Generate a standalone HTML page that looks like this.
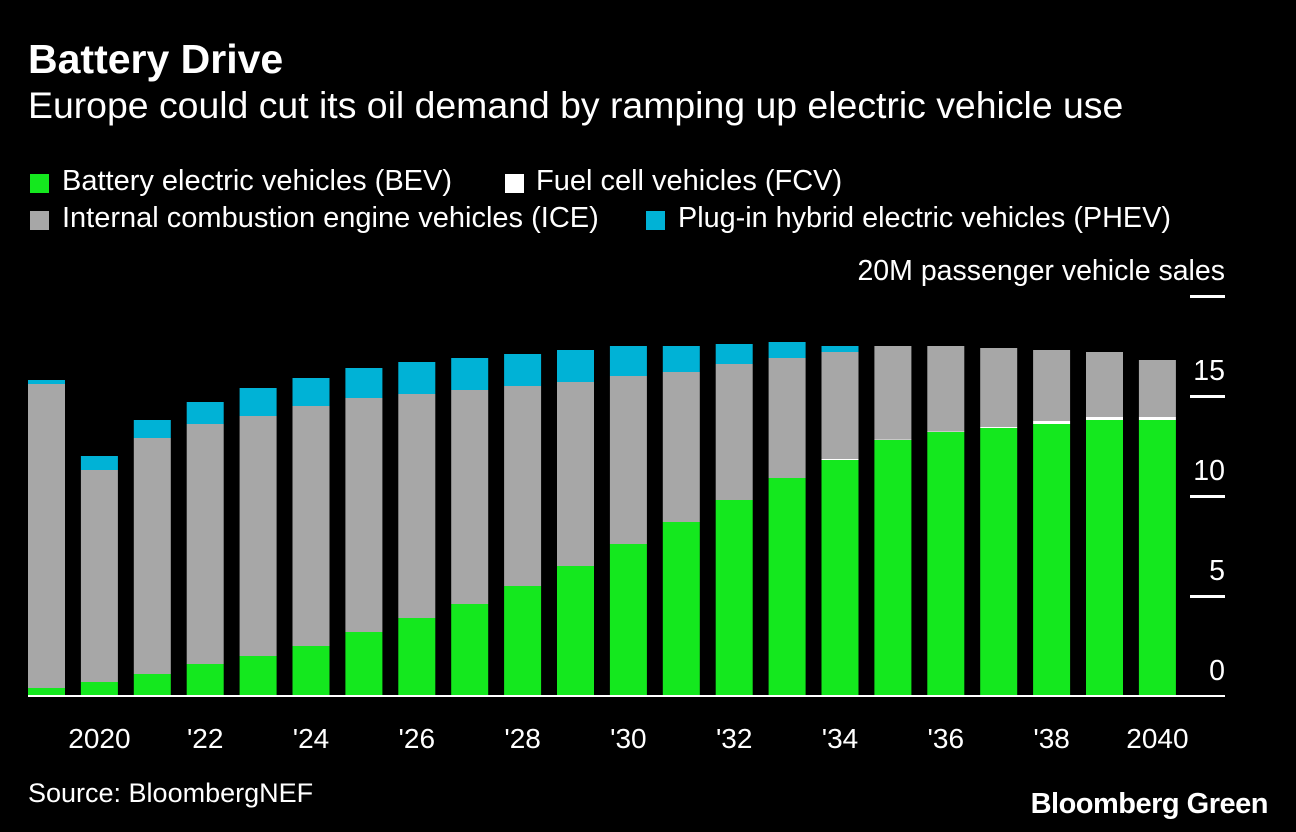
<!DOCTYPE html>
<html><head><meta charset="utf-8"><style>
body{margin:0;background:#000;width:1296px;height:832px;overflow:hidden;font-family:"Liberation Sans",sans-serif;color:#fff}
.t{position:absolute;white-space:nowrap}
.sw{position:absolute;width:19px;height:19px}
</style></head><body>
<div class="t" style="left:28px;top:36px;font-size:41px;font-weight:bold">Battery Drive</div>
<div class="t" style="left:28px;top:84px;font-size:37.4px">Europe could cut its oil demand by ramping up electric vehicle use</div>
<div>
<div class="sw" style="left:30px;top:174px;background:#14e81e"></div>
<div class="t" style="left:62px;top:165px;font-size:29px">Battery electric vehicles (BEV)</div>
<div class="sw" style="left:505px;top:174px;background:#fff"></div>
<div class="t" style="left:536px;top:165px;font-size:29px">Fuel cell vehicles (FCV)</div>
<div class="sw" style="left:30px;top:211px;background:#a7a7a7"></div>
<div class="t" style="left:62px;top:202px;font-size:29px">Internal combustion engine vehicles (ICE)</div>
<div class="sw" style="left:646px;top:211px;background:#00b2d6"></div>
<div class="t" style="left:678px;top:202px;font-size:28.8px">Plug-in hybrid electric vehicles (PHEV)</div>
</div>
<svg id="chart" width="1296" height="832" style="position:absolute;left:0;top:0"></svg>
<div class="t" style="left:28px;top:778px;font-size:27px">Source: BloombergNEF</div>
<div class="t" style="right:28px;top:788px;font-size:29px;font-weight:bold;letter-spacing:-0.5px">Bloomberg Green</div>
<script>
const years=[2019,2020,2021,2022,2023,2024,2025,2026,2027,2028,2029,2030,2031,2032,2033,2034,2035,2036,2037,2038,2039,2040];
const bev=[0.4,0.7,1.1,1.6,2.0,2.5,3.2,3.9,4.6,5.5,6.5,7.6,8.7,9.8,10.9,11.8,12.8,13.2,13.4,13.6,13.8,13.8];
const fcv=[0,0,0,0,0,0,0,0,0,0,0,0,0,0,0,0.05,0.03,0.03,0.05,0.15,0.15,0.15];
const ice=[15.2,10.6,11.8,12.0,12.0,12.0,11.7,11.2,10.7,10.0,9.2,8.4,7.5,6.8,6.0,5.35,4.67,4.27,3.95,3.55,3.25,2.85];
const phev=[0.2,0.7,0.9,1.1,1.4,1.4,1.5,1.6,1.6,1.6,1.6,1.5,1.3,1.0,0.8,0.3,0,0,0,0,0,0];
const yTicks=[0,5,10,15,20];
const yTickLabels=['0','5','10','15','20M passenger vehicle sales'];
const xLabels={2020:'2020',2022:"'22",2024:"'24",2026:"'26",2028:"'28",2030:"'30",2032:"'32",2034:"'34",2036:"'36",2038:"'38",2040:'2040'};
const svg=document.getElementById('chart');const NS='http://www.w3.org/2000/svg';
const y=v=>696-v*20;const x=i=>28+i*52.9;const bw=37;
function mk(t,a){const e=document.createElementNS(NS,t);for(const k in a)e.setAttribute(k,a[k]);svg.appendChild(e);return e;}
const series=[['bev',bev,'#14e81e'],['fcv',fcv,'#ffffff'],['ice',ice,'#a7a7a7'],['phev',phev,'#00b2d6']];
years.forEach((yr,i)=>{let base=0;series.forEach(([n,arr,c])=>{const v=arr[i];if(v>0){const r=mk('rect',{x:x(i),y:y(base+v),width:bw,height:v*20,fill:c});

}base+=v;});
if(xLabels[yr]){const t=mk('text',{x:x(i)+bw/2,y:748,'text-anchor':'middle','font-size':28,fill:'#fff','font-family':'Liberation Sans'});t.textContent=xLabels[yr];

}});
yTicks.forEach((v,j)=>{if(v>0){const l=mk('rect',{x:1190,y:y(v)-1,width:35,height:3,fill:'#fff'});

}
const t=mk('text',{x:1225,y:y(v)-16,'text-anchor':'end','font-size':28.5,fill:'#fff','font-family':'Liberation Sans'});t.textContent=yTickLabels[j];

});
const b=mk('rect',{x:28,y:695,width:1197,height:2,fill:'#fff'});


</script>
</body></html>
